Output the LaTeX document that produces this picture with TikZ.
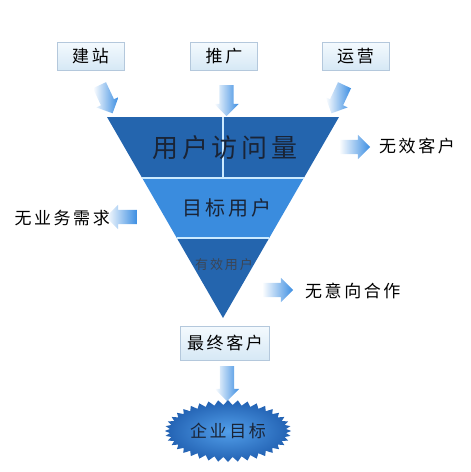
\documentclass[tikz,border=0pt]{standalone}
\usepackage{fontspec}
\setmainfont{Noto Sans CJK SC}
\newfontfamily\cjkwide[LetterSpace=15]{Noto Sans CJK SC}
\usetikzlibrary{shapes.arrows,shapes.symbols}

\definecolor{darkband}{HTML}{2465AE}
\definecolor{lightband}{HTML}{3A8CDE}
\definecolor{arrowblue}{HTML}{3C8EE2}
\definecolor{edgeline}{HTML}{CBEAFF}
\definecolor{boxline}{HTML}{B4C8DC}
\definecolor{boxtop}{HTML}{F4FAFE}
\definecolor{boxbottom}{HTML}{D6E8F5}
\definecolor{inktext}{HTML}{1A2436}
\definecolor{burstin}{HTML}{529FEA}
\definecolor{burstout}{HTML}{2261B2}

\begin{document}
\begin{tikzpicture}[x=1pt,y=-1pt,
    tag/.style={draw=boxline,top color=boxtop,bottom color=boxbottom,
        minimum width=67pt,minimum height=28pt,inner sep=0pt,
        font=\cjkwide\fontsize{17}{17}\selectfont},
    blockarrow/.style={single arrow,minimum height=31pt,
        single arrow head extend=5pt,inner xsep=0pt,inner ysep=7pt,
        left color=white,right color=arrowblue},
    sidetext/.style={inner sep=0pt,font=\cjkwide\fontsize{17}{17}\selectfont}]
    \useasboundingbox (0,0) rectangle (471,472);

    % sources
    \foreach \name/\x/\txt in {site/90.5/建站,promo/224/推广,ops/355.5/运营} {
        \node[tag] (\name) at (\x,56) {\txt};
    }
    \node[blockarrow,rotate=-65] (siteArrow) at (104.5,96) {};
    \node[blockarrow,rotate=-90] (promoArrow) at (226.5,97) {};
    \node[blockarrow,rotate=-115] (opsArrow) at (339.5,96) {};

    % funnel
    \fill[darkband] (107,117) -- (339,117) -- (303.8,178) -- (142.2,178) -- cycle;
    \fill[lightband] (142.2,178) -- (303.8,178) -- (269.2,238) -- (176.8,238) -- cycle;
    \fill[darkband] (176.8,238) -- (269.2,238) -- (223,318) -- cycle;
    \draw[edgeline,line width=1.5pt] (142.2,178) -- (303.8,178)
        (176.8,238) -- (269.2,238) (223,117) -- (223,178);
    \node[inner sep=0pt,text=inktext,font=\cjkwide\fontsize{26}{26}\selectfont]
        (visits) at (225,148) {用户访问量};
    \node[inner sep=0pt,text=inktext,font=\cjkwide\fontsize{20}{20}\selectfont]
        (targets) at (227,208) {目标用户};
    \node[inner sep=0pt,text=inktext!85,font=\cjkwide\fontsize{13}{13}\selectfont]
        (valid) at (224,265) {有效用户};

    % losses
    \node[blockarrow] (lossA) at (351,147) {};
    \node[sidetext,anchor=west] (invalid) at (379,146) {无效客户};
    \node[blockarrow,rotate=180] (lossB) at (125,217) {};
    \node[sidetext,anchor=east] (noneed) at (110,218) {无业务需求};
    \node[blockarrow] (lossC) at (274,290) {};
    \node[sidetext,anchor=west] (nointent) at (305,291) {无意向合作};

    % result
    \node[tag,minimum width=89pt,minimum height=34pt] (final) at (225,343) {最终客户};
    \node[blockarrow,rotate=-90,minimum height=35pt] (goalArrow) at (227,380) {};
    \node[starburst,random starburst=0,starburst points=40,
        starburst point height=5pt,minimum width=114pt,minimum height=62pt,
        inner color=burstin,outer color=burstout,text=inktext,
        font=\cjkwide\fontsize{17}{17}\selectfont] (goal) at (228,431) {企业目标};
\end{tikzpicture}
\end{document}
